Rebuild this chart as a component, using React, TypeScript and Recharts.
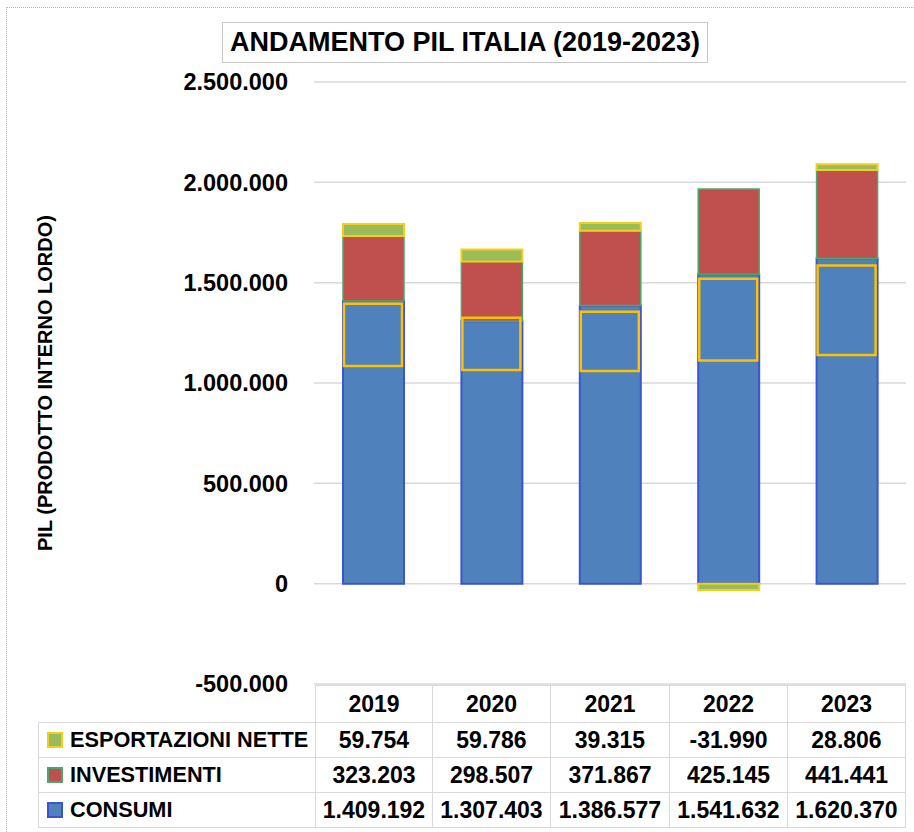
import React from "react";
import { BarChart, Bar, XAxis, YAxis, CartesianGrid } from "recharts";

// valori PIL Italia (milioni di euro)
const anni = ["2019", "2020", "2021", "2022", "2023"];
const consumi = [1409192, 1307403, 1386577, 1541632, 1620370];
const investimenti = [323203, 298507, 371867, 425145, 441441];
const esportazioni = [59754, 59786, 39315, -31990, 28806];
// riquadri arancioni sovrapposti ai consumi
const riquadroMin = [1085000, 1065000, 1060000, 1112000, 1140000];
const riquadroMax = [1395000, 1325000, 1355000, 1519000, 1585000];
const yTicks = [-500000, 0, 500000, 1000000, 1500000, 2000000, 2500000];

const FONT = "'Liberation Sans', Arial, sans-serif";

const fmt = (v: number) => {
    const s = Math.abs(v).toString().replace(/\B(?=(\d{3})+(?!\d))/g, ".");
    return v < 0 ? "-" + s : s;
};

const data = anni.map((anno, i) => ({
    anno,
    consumi: consumi[i],
    investimenti: investimenti[i],
    esportazioni: esportazioni[i],
    riquadro: [riquadroMin[i], riquadroMax[i]],
}));

const righe = [
    { nome: "ESPORTAZIONI NETTE", valori: esportazioni, fill: "#9bbb59", stroke: "#f2cf1d" },
    { nome: "INVESTIMENTI", valori: investimenti, fill: "#c0504d", stroke: "#4aa86e" },
    { nome: "CONSUMI", valori: consumi, fill: "#4f81bd", stroke: "#3a55d0" },
];

const cellBorder = "1px solid #d9d9d9";

export default function App() {
    return (
        <div style={{ position: "absolute", left: 0, top: 0, width: 914, height: 832, fontFamily: FONT, background: "#fff" }}>
            <div
                style={{
                    position: "absolute",
                    left: 6,
                    top: 7,
                    width: 908,
                    height: 825,
                    borderTop: "1px dotted #b5b5b5",
                    borderLeft: "1px dotted #b5b5b5",
                    boxSizing: "border-box",
                }}
            />
            <div style={{ position: "absolute", left: 0, top: 0 }}>
                <BarChart
                    width={914}
                    height={832}
                    data={data}
                    margin={{ top: 82, right: 8, bottom: 148, left: 14 }}
                    stackOffset="sign"
                >
                    <CartesianGrid vertical={false} stroke="#d9d9d9" strokeWidth={1.5} />
                    <XAxis dataKey="anno" hide />
                    <XAxis xAxisId="ov" dataKey="anno" hide />
                    <YAxis
                        width={300}
                        domain={[-500000, 2500000]}
                        ticks={yTicks}
                        interval={0}
                        tickFormatter={fmt}
                        axisLine={false}
                        tickLine={false}
                        tickSize={0}
                        tickMargin={26}
                        allowDataOverflow
                        tick={{ fill: "#000", fontSize: 23.5, fontWeight: 700, fontFamily: FONT }}
                    />
                    <Bar dataKey="consumi" stackId="pil" barSize={61} fill="#4f81bd" stroke="#3a55d0" strokeWidth={2} isAnimationActive={false} />
                    <Bar dataKey="investimenti" stackId="pil" barSize={61} fill="#c0504d" stroke="#4aa86e" strokeWidth={1.5} isAnimationActive={false} />
                    <Bar dataKey="esportazioni" stackId="pil" barSize={61} fill="#9bbb59" stroke="#f2cf1d" strokeWidth={2} isAnimationActive={false} />
                    <Bar xAxisId="ov" dataKey="riquadro" barSize={58} fill="none" stroke="#ffc000" strokeWidth={2.5} isAnimationActive={false} />
                </BarChart>
            </div>

            <div
                style={{
                    position: "absolute",
                    left: 222,
                    top: 22,
                    width: 486,
                    height: 41,
                    border: "1px solid #c8c8c8",
                    boxSizing: "border-box",
                    display: "flex",
                    alignItems: "center",
                    justifyContent: "center",
                    fontSize: 27,
                    fontWeight: 700,
                    whiteSpace: "nowrap",
                }}
            >
                ANDAMENTO PIL ITALIA (2019-2023)
            </div>

            <div
                style={{
                    position: "absolute",
                    left: 45,
                    top: 383,
                    transform: "translate(-50%, -50%) rotate(-90deg)",
                    fontSize: 20,
                    fontWeight: 700,
                    whiteSpace: "nowrap",
                }}
            >
                PIL (PRODOTTO INTERNO LORDO)
            </div>

            <table
                style={{
                    position: "absolute",
                    left: 38,
                    top: 685,
                    width: 867,
                    tableLayout: "fixed",
                    borderCollapse: "collapse",
                    fontWeight: 700,
                    fontSize: 23,
                    color: "#000",
                }}
            >
                <colgroup>
                    <col style={{ width: 277 }} />
                    <col style={{ width: 117 }} />
                    <col style={{ width: 118 }} />
                    <col style={{ width: 119 }} />
                    <col style={{ width: 118 }} />
                    <col style={{ width: 118 }} />
                </colgroup>
                <tbody>
                    <tr style={{ height: 37 }}>
                        <td style={{ border: "none", padding: 0 }} />
                        {anni.map((a) => (
                            <td key={a} style={{ border: cellBorder, textAlign: "center", padding: 0 }}>
                                {a}
                            </td>
                        ))}
                    </tr>
                    {righe.map((r) => (
                        <tr key={r.nome} style={{ height: 35 }}>
                            <td style={{ border: cellBorder, padding: "0 0 0 8px", whiteSpace: "nowrap", fontSize: 21.7 }}>
                                <span
                                    style={{
                                        display: "inline-block",
                                        width: 12,
                                        height: 12,
                                        background: r.fill,
                                        border: `2px solid ${r.stroke}`,
                                        marginRight: 7,
                                        verticalAlign: "-1px",
                                    }}
                                />
                                {r.nome}
                            </td>
                            {r.valori.map((v, i) => (
                                <td key={i} style={{ border: cellBorder, textAlign: "center", padding: 0, whiteSpace: "nowrap" }}>
                                    {fmt(v)}
                                </td>
                            ))}
                        </tr>
                    ))}
                </tbody>
            </table>
        </div>
    );
}
